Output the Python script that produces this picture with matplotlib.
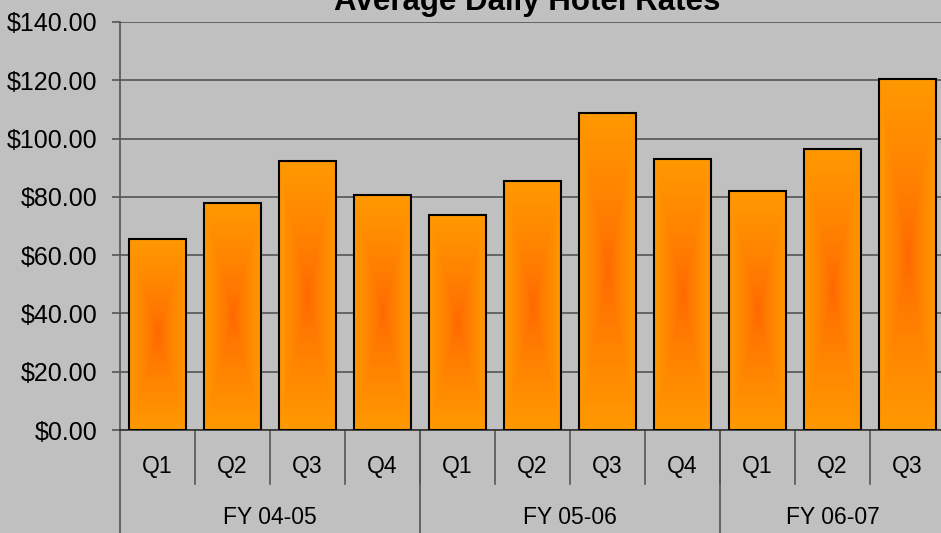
import numpy as np
import matplotlib.pyplot as plt
from matplotlib.transforms import blended_transform_factory

quarters = ["Q1", "Q2", "Q3", "Q4", "Q1", "Q2", "Q3", "Q4", "Q1", "Q2", "Q3"]
years = ["FY 04-05", "FY 05-06", "FY 06-07"]
year_sizes = [4, 4, 3]
rates = [65.6, 77.9, 92.3, 80.6, 73.8, 85.4, 108.8, 93.0, 82.0, 96.4, 120.5]

plt.rcParams['font.family'] = ['Liberation Sans', 'DejaVu Sans']

fig = plt.figure(figsize=(9.41, 5.33), dpi=100)
fig.patch.set_facecolor("#C0C0C0")
ax = fig.add_axes([120 / 941, 1 - 430 / 533, 825 / 941, 408 / 533])
ax.set_facecolor("#C0C0C0")

# rectangular "from center" gradient, dark orange core -> light orange edge
n = 200
u = np.linspace(-1, 1, n)
U, V = np.meshgrid(u, u)
d = np.maximum(np.abs(U), np.abs(V)) ** 0.75
c_in = np.array([255, 102, 0]) / 255
c_out = np.array([255, 153, 0]) / 255
grad = c_in[None, None, :] * (1 - d[..., None]) + c_out[None, None, :] * d[..., None]

x = np.arange(len(rates))
w = 0.77
for xi, val in zip(x, rates):
    ax.imshow(grad, extent=[xi - w / 2, xi + w / 2, 0, val], aspect="auto",
              interpolation="bilinear", zorder=2)
ax.bar(x, rates, width=w, facecolor="none", edgecolor="black", linewidth=1.5, zorder=3)

ax.set_xlim(-0.5, len(rates) - 0.5)
ax.set_ylim(0, 140)
ax.set_yticks(np.arange(0, 141, 20))
ax.set_yticklabels(["$%.2f" % v for v in np.arange(0, 141, 20)], fontsize=18)
ax.yaxis.grid(True, color="#555555", linewidth=1.2, zorder=0)
ax.set_axisbelow(True)
ax.tick_params(axis="y", length=6, color="#555555", width=1.2, pad=10)
ax.set_xticks([])
for s in ["top", "right"]:
    ax.spines[s].set_visible(False)
ax.spines["left"].set_color("#555555")
ax.spines["left"].set_linewidth(1.2)
ax.spines["bottom"].set_color("#333333")
ax.spines["bottom"].set_linewidth(1.2)

# two-level category labels
tr = blended_transform_factory(ax.transData, ax.transAxes)
for xi, q in zip(x, quarters):
    ax.text(xi, -37 / 408, q, transform=tr, ha="center", va="center", fontsize=16.5)
for xi in x[1:]:
    ax.plot([xi - 0.5, xi - 0.5], [0, -54 / 408], transform=tr, color="#555555",
            linewidth=1.2, clip_on=False)
start = 0
for yr, size in zip(years, year_sizes):
    ax.text(start + size / 2 - 0.5, -88 / 408, yr, transform=tr, ha="center",
            va="center", fontsize=16.5)
    ax.plot([start - 0.5, start - 0.5], [0, -110 / 408], transform=tr,
            color="#555555", linewidth=1.2, clip_on=False)
    start += size

fig.text(527 / 941, 1 - 10 / 533, "Average Daily Hotel Rates", ha="center",
         va="baseline", fontsize=22.5, fontweight="bold")

fig.savefig("out.png", dpi=100, facecolor=fig.get_facecolor())
